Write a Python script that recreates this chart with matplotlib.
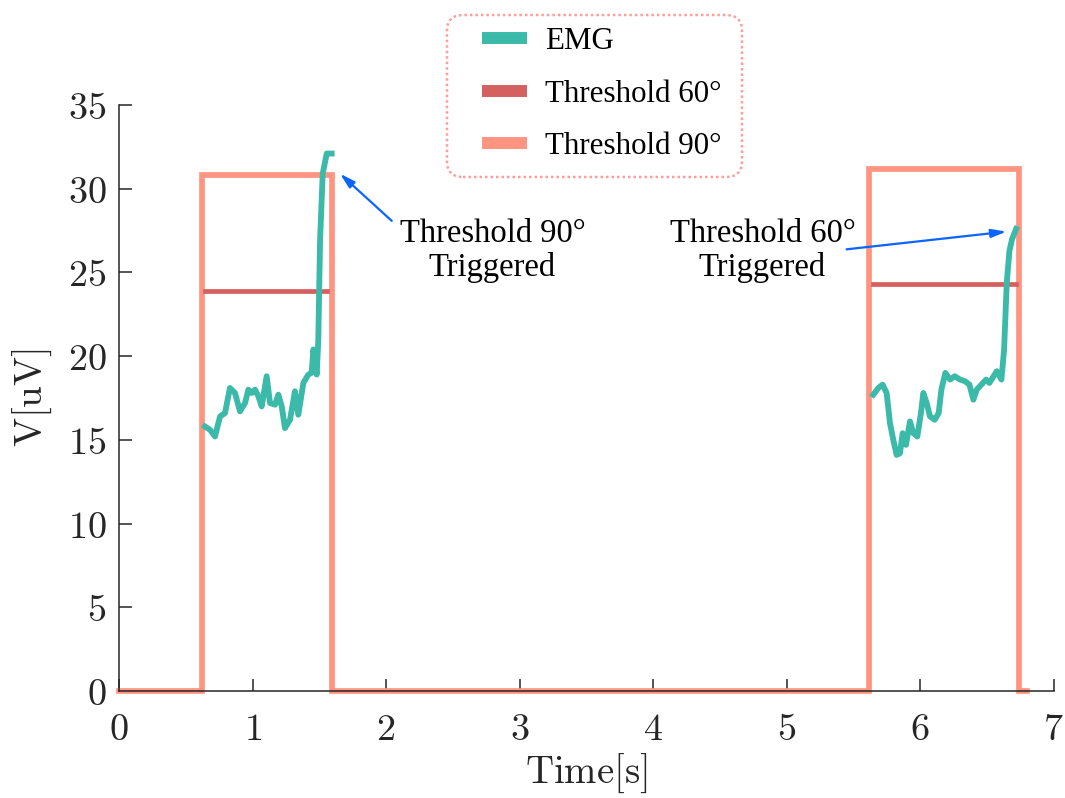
import numpy as np
import matplotlib.pyplot as plt
from matplotlib.patches import FancyBboxPatch
from matplotlib.ticker import FuncFormatter

plt.rcParams['mathtext.fontset'] = 'cm'

# threshold 90 deg pulse (time s, value uV)
t90 = [0, 0.62, 0.62, 1.595, 1.595, 5.615, 5.615, 6.74, 6.74, 6.80]
v90 = [0, 0, 30.8, 30.8, 0, 0, 31.2, 31.2, 0, 0]

# threshold 60 deg level in each window
t60a = [0.645, 1.56]
v60a = [23.9, 23.9]
t60b = [5.645, 6.72]
v60b = [24.3, 24.3]

# EMG, first window
emg1_t = [0.644, 0.682, 0.719, 0.757, 0.794, 0.831, 0.869, 0.906, 0.944, 0.969,
          0.994, 1.019, 1.044, 1.069, 1.106, 1.131, 1.169, 1.194, 1.219, 1.243,
          1.281, 1.318, 1.343, 1.381, 1.418, 1.443, 1.456, 1.481, 1.493, 1.506,
          1.526, 1.556, 1.593]
emg1_v = [15.8, 15.6, 15.2, 16.4, 16.6, 18.1, 17.8, 16.7, 17.2, 18.0,
          17.8, 18.0, 17.6, 17.0, 18.8, 17.2, 17.1, 17.7, 17.0, 15.7,
          16.2, 17.9, 16.5, 18.4, 18.9, 19.0, 20.4, 18.9, 21.0, 26.9,
          30.9, 32.1, 32.1]

# EMG, second window
emg2_t = [5.65, 5.688, 5.72, 5.75, 5.775, 5.80, 5.825, 5.85, 5.87, 5.895,
          5.925, 5.95, 5.98, 6.007, 6.025, 6.05, 6.075, 6.11, 6.14, 6.16,
          6.19, 6.225, 6.26, 6.30, 6.337, 6.37, 6.40, 6.425, 6.46, 6.495,
          6.52, 6.575, 6.61, 6.63, 6.65, 6.67, 6.69, 6.72]
emg2_v = [17.7, 18.1, 18.3, 17.8, 16.0, 15.0, 14.1, 14.2, 15.4, 14.7,
          16.1, 15.4, 15.2, 16.6, 17.8, 17.2, 16.4, 16.2, 16.6, 18.0,
          19.0, 18.6, 18.8, 18.6, 18.5, 18.3, 17.4, 18.0, 18.3, 18.6,
          18.4, 19.1, 18.6, 20.4, 24.4, 26.3, 27.0, 27.6]

c_emg = '#3bb9a9'
c_60 = '#d46060'
c_90 = '#ff9480'
c_arrow = '#0a64ff'
serif = 'Liberation Serif'

fig = plt.figure(figsize=(10.65, 7.98), dpi=100)
ax = fig.add_axes([119 / 1065, 1 - 691 / 798, 934.5 / 1065, 586 / 798])

l90, = ax.plot(t90, v90, color=c_90, lw=4.1, clip_on=False, zorder=2,
               solid_joinstyle='miter')
l60, = ax.plot(t60a, v60a, color=c_60, lw=3.4, zorder=3)
ax.plot(t60b, v60b, color=c_60, lw=3.4, zorder=3)
lemg, = ax.plot(emg1_t, emg1_v, color=c_emg, lw=4.2, zorder=4)
ax.plot(emg2_t, emg2_v, color=c_emg, lw=4.2, zorder=4)

ax.set_xlim(0, 7)
ax.set_ylim(0, 35)
ax.set_xticks(range(0, 8))
ax.set_yticks(range(0, 36, 5))
fmt = FuncFormatter(lambda v, p: f'${v:g}$')
ax.xaxis.set_major_formatter(fmt)
ax.yaxis.set_major_formatter(fmt)
ax.tick_params(direction='in', length=9, width=1.1, labelsize=27.5,
               color='#262626', labelcolor='#262626')
ax.tick_params(axis='x', pad=15)
ax.tick_params(axis='y', pad=9)
for s in ['top', 'right']:
    ax.spines[s].set_visible(False)
for s in ['left', 'bottom']:
    ax.spines[s].set_linewidth(1.1)
    ax.spines[s].set_color('#262626')

ax.set_xlabel(r'$\mathrm{Time[s]}$', fontsize=28, labelpad=3, color='#262626')
ax.set_ylabel(r'$\mathrm{V[uV]}$', fontsize=28, labelpad=10, color='#262626')

# annotations
arrow = dict(arrowstyle='-|>,head_length=0.9,head_width=0.25',
             color=c_arrow, lw=1.6, shrinkA=0, shrinkB=0)
ax.text(2.797, 26.3, 'Threshold 90°\nTriggered', ha='center', va='center',
        family=serif, fontsize=23.5, linespacing=1.12)
ax.annotate('', xy=(1.655, 30.9), xytext=(2.043, 28.08), arrowprops=arrow)
ax.text(4.82, 26.3, 'Threshold 60°\nTriggered', ha='center', va='center',
        family=serif, fontsize=23.5, linespacing=1.12)
ax.annotate('', xy=(6.649, 27.44), xytext=(5.45, 26.38), arrowprops=arrow)

# legend with dotted rounded box
box = FancyBboxPatch((4.47, 6.21), 2.95, 1.62,
                     boxstyle='round,pad=0,rounding_size=0.16',
                     transform=fig.dpi_scale_trans, facecolor='white',
                     edgecolor='#ff9c9c', lw=1.8, linestyle=(0, (1, 1.2)))
fig.patches.append(box)
leg = fig.legend([lemg, l60, l90], ['EMG', 'Threshold 60°', 'Threshold 90°'],
                 loc='upper left', bbox_to_anchor=(482 / 1065, 1 - 27 / 798),
                 frameon=False, borderpad=0, borderaxespad=0,
                 handlelength=1.45, handletextpad=0.58, labelspacing=0.76,
                 prop={'family': serif, 'size': 22.3})
for h in leg.get_lines():
    h.set_linewidth(8.6)
    h.set_solid_capstyle('butt')

fig.savefig('out.png', dpi=100)
